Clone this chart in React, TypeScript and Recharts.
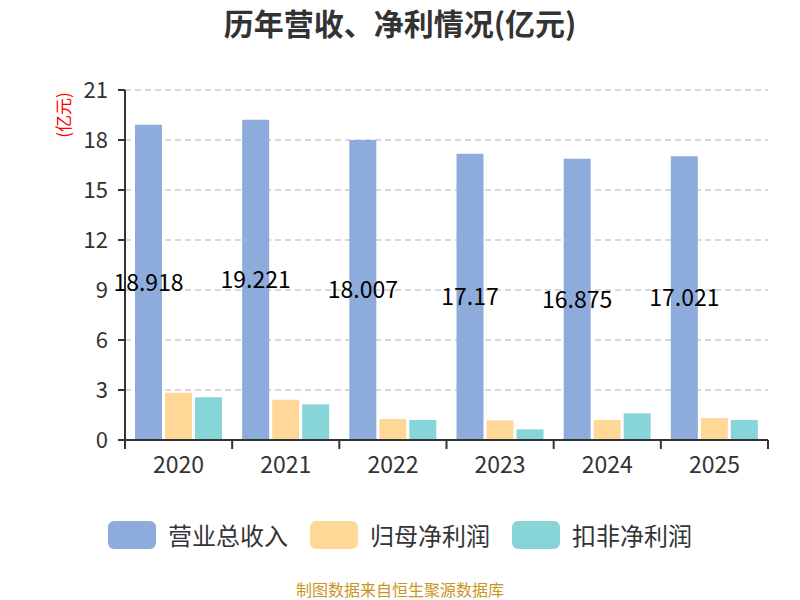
import React from 'react';
import { BarChart, Bar, XAxis, YAxis, CartesianGrid, LabelList } from 'recharts';

const years = ['2020', '2021', '2022', '2023', '2024', '2025'];
const revenue = [18.918, 19.221, 18.007, 17.17, 16.875, 17.021];
const netProfit = [2.84, 2.42, 1.26, 1.18, 1.2, 1.32];
const deductedProfit = [2.56, 2.14, 1.2, 0.64, 1.6, 1.2];
const yTicks = [0, 3, 6, 9, 12, 15, 18, 21];
const boundaryTicks = [0, 1, 2, 3, 4, 5, 6];

const seriesNames = ['营业总收入', '归母净利润', '扣非净利润'];
const colors = ['#8eacdb', '#ffd898', '#88d5d9'];

const data = years.map((y, i) => ({
  year: y,
  idx: i + 0.5,
  revenue: revenue[i],
  netProfit: netProfit[i],
  deductedProfit: deductedProfit[i],
}));

const font = '"Noto Sans CJK SC", "Noto Sans", sans-serif';

export default function App() {
  return (
    <div style={{ position: 'absolute', left: 0, top: 0, width: 800, height: 600, background: '#fff', fontFamily: font, overflow: 'hidden' }}>
      <div style={{ position: 'absolute', left: 0, top: 2, width: 800, textAlign: 'center', fontSize: 30, lineHeight: '40px', fontWeight: 'bold', color: '#333' }}>
        历年营收、净利情况(亿元)
      </div>
      <div style={{ position: 'absolute', left: 63, top: 115, transform: 'translate(-50%, -50%) rotate(-90deg)', fontSize: 17, lineHeight: '20px', color: '#ff0000', whiteSpace: 'nowrap' }}>
        (亿元)
      </div>
      <BarChart
        width={800}
        height={600}
        data={data}
        margin={{ top: 90, right: 32, left: 65, bottom: 129 }}
        barCategoryGap={10}
        barGap={3}
      >
        <CartesianGrid xAxisId="b_cat" vertical={false} stroke="#ccc" strokeDasharray="6 4" strokeWidth={1.5} />
        <XAxis
          xAxisId="a_bound"
          type="number"
          dataKey="idx"
          domain={[0, 6]}
          ticks={boundaryTicks}
          tickFormatter={() => ''}
          tick={{ fontSize: 1 }}
          tickSize={9}
          tickLine={{ stroke: '#333', strokeWidth: 2 }}
          axisLine={{ stroke: '#333', strokeWidth: 2 }}
          height={1}
        />
        <XAxis
          xAxisId="b_cat"
          dataKey="year"
          tick={{ fontSize: 23, fill: '#333', fontFamily: font }}
          tickLine={false}
          axisLine={false}
          tickMargin={10}
          height={30}
        />
        <YAxis
          domain={[0, 21]}
          ticks={yTicks}
          width={60}
          tick={{ fontSize: 22, fill: '#333', fontFamily: font }}
          tickSize={7}
          tickMargin={10}
          tickLine={{ stroke: '#333', strokeWidth: 2 }}
          axisLine={{ stroke: '#333', strokeWidth: 2 }}
          interval={0}
        />
        <Bar xAxisId="b_cat" dataKey="revenue" name={seriesNames[0]} fill={colors[0]} isAnimationActive={false}>
          <LabelList dataKey="revenue" position="center" fill="#000" fontSize={23} fontFamily={font} />
        </Bar>
        <Bar xAxisId="b_cat" dataKey="netProfit" name={seriesNames[1]} fill={colors[1]} isAnimationActive={false} />
        <Bar xAxisId="b_cat" dataKey="deductedProfit" name={seriesNames[2]} fill={colors[2]} isAnimationActive={false} />
      </BarChart>
      <div style={{ position: 'absolute', left: 0, top: 519, width: 800, display: 'flex', justifyContent: 'center', alignItems: 'center' }}>
        {seriesNames.map((n, i) => (
          <div key={n} style={{ display: 'flex', alignItems: 'center', marginLeft: i === 0 ? 0 : 22 }}>
            <div style={{ width: 48, height: 28, borderRadius: 6, background: colors[i], marginRight: 12 }} />
            <span style={{ fontSize: 24, lineHeight: '32px', color: '#333' }}>{n}</span>
          </div>
        ))}
      </div>
      <div style={{ position: 'absolute', left: 0, top: 578, width: 800, textAlign: 'center', fontSize: 16, lineHeight: '22px', color: '#c8961e' }}>
        制图数据来自恒生聚源数据库
      </div>
    </div>
  );
}
